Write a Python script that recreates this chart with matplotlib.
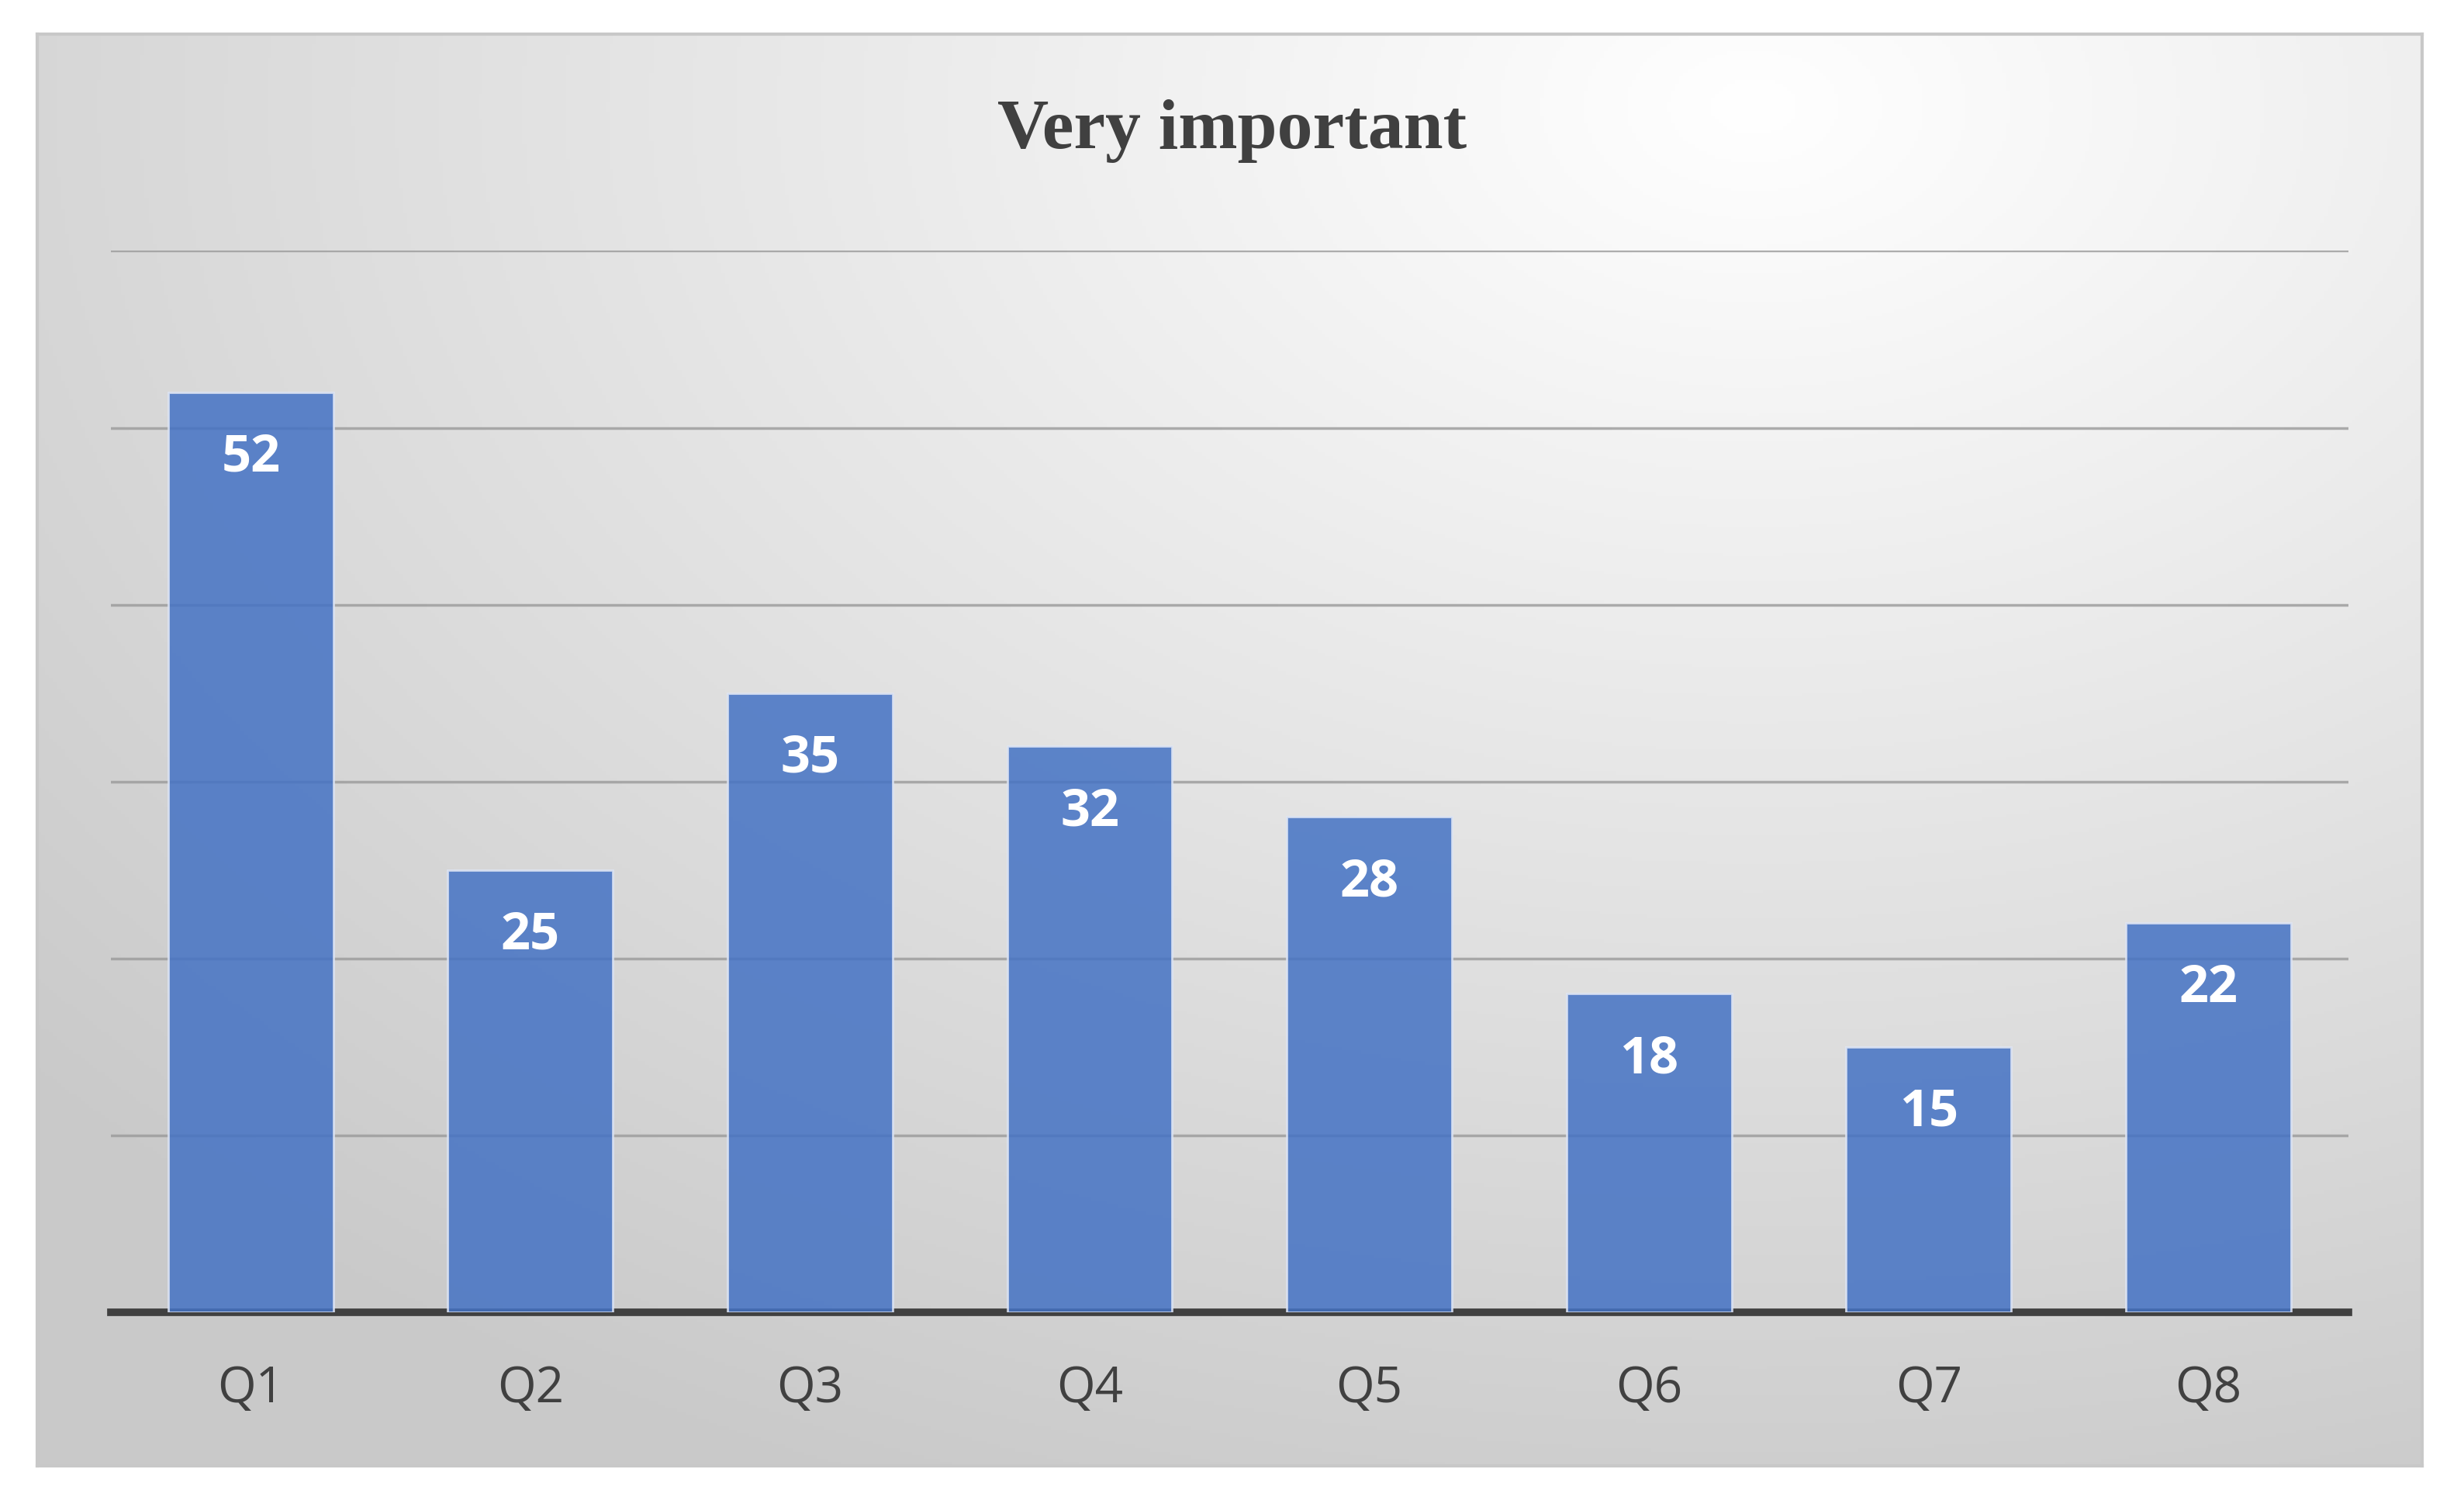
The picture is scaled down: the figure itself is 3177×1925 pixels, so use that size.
import matplotlib.pyplot as plt
import numpy as np

categories = ['Q1', 'Q2', 'Q3', 'Q4', 'Q5', 'Q6', 'Q7', 'Q8']
values = [52, 25, 35, 32, 28, 18, 15, 22]

fig = plt.figure(figsize=(31.77, 19.25), dpi=100)
fig.patch.set_facecolor('white')

# fond en degrade radial
bg = fig.add_axes([0.015, 0.018, 0.968, 0.959])
yy, xx = np.mgrid[0:1:400j, 0:1:600j]
d = np.sqrt(((xx - 0.72) * 1.1) ** 2 + (yy - 0.05) ** 2)
g = np.clip(1 - d * 0.2, 0.79, 1.0)
bg.imshow(np.dstack([g, g, g]), aspect='auto', extent=[0, 1, 0, 1], origin='upper')
bg.set_xticks([]); bg.set_yticks([])
for s in bg.spines.values():
    s.set_color('#c8c8c8'); s.set_linewidth(3)

ax = fig.add_axes([0.045, 0.121, 0.908, 0.711])
ax.set_facecolor('none')
x = np.arange(len(categories))
ax.bar(x, values, width=0.59, color='#4472c4', alpha=0.85, edgecolor='#dfe6f5', linewidth=2, zorder=3)
for xi, v in zip(x, values):
    ax.text(xi, v - 3.7, str(v), ha='center', va='center', color='white',
            fontsize=48, fontweight='bold', family='Open Sans', zorder=4)
ax.set_xlim(-0.5, len(categories) - 0.5)
ax.set_ylim(0, 60)
ax.set_yticks(range(10, 61, 10))
ax.yaxis.grid(True, color='#9a9a9a', linewidth=2.5, alpha=0.8)
ax.tick_params(axis='y', left=False, labelleft=False)
ax.tick_params(axis='x', bottom=False, labelsize=46, pad=45, labelcolor='#404040')
ax.set_xticks(x)
ax.set_xticklabels(categories, family='Open Sans')
for s in ['top', 'right', 'left']:
    ax.spines[s].set_visible(False)
ax.spines['bottom'].set_color('#404040')
ax.spines['bottom'].set_linewidth(7)

fig.text(0.5, 0.912, 'Very important', ha='center', va='center', fontsize=66,
         fontweight='bold', family='Liberation Serif', color='#404040')

fig.savefig('out.png', dpi=100)
